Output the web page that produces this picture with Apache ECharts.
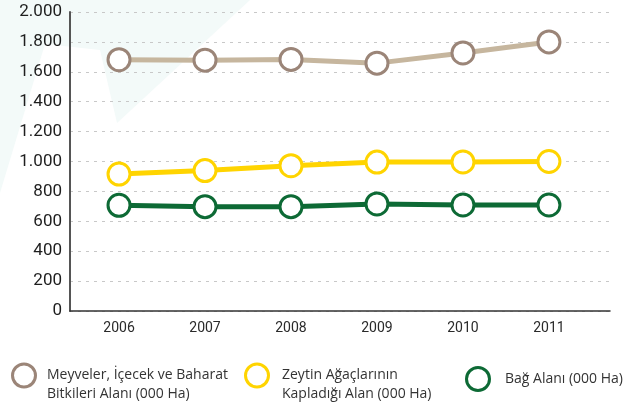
<!DOCTYPE html>
<html>
<head>
<meta charset="utf-8">
<script src="https://cdn.jsdelivr.net/npm/echarts@6/dist/echarts.min.js"></script>
<style>
html,body{margin:0;padding:0;background:#fff;}
#c{width:624px;height:403px;}
</style>
</head>
<body>
<div id="c"></div>
<script>
const years = [2006, 2007, 2008, 2009, 2010, 2011];
const yTicks = [0, 200, 400, 600, 800, 1000, 1200, 1400, 1600, 1800, 2000];
const meyveler = [1681, 1678, 1683, 1658, 1726, 1800];
const zeytin = [916, 939, 972, 996, 997, 1000];
const bag = [707, 698, 698, 716, 709, 709];

const names = [
  'Meyveler, İçecek ve Baharat\nBitkileri Alanı (000 Ha)',
  'Zeytin Ağaçlarının\nKapladığı Alan (000 Ha)',
  'Bağ Alanı (000 Ha)'
];

const fontAxis = "'Roboto','Open Sans',sans-serif";
const fontLegend = "'Open Sans',sans-serif";

function pairs(vals){ return years.map((y,i)=>[y, vals[i]]); }
function fmt(v){
  if (v >= 1000) return Math.floor(v/1000) + '.' + String(v % 1000).padStart(3,'0');
  return String(v);
}

const chart = echarts.init(document.getElementById('c'), null, {renderer:'canvas'});

function mkSeries(name, vals, lineColor, borderColor, z){
  return {
    name: name,
    type: 'line',
    data: pairs(vals),
    symbol: 'circle',
    symbolSize: 22,
    z: z,
    lineStyle: {color: lineColor, width: 5},
    itemStyle: {color: '#fff', borderColor: borderColor, borderWidth: 3},
    emphasis: {disabled: true},
    animation: false
  };
}

function mkLegend(name, left, top, padLeft, twoLine){
  return {
    data: [name],
    left: left, top: top,
    icon: 'circle',
    itemWidth: 30, itemHeight: 23,
    selectedMode: false,
    padding: 0,
    formatter: n => twoLine ? '\n' + n : n,
    textStyle: {color: '#333', fontSize: 14, fontFamily: fontLegend, lineHeight: 19, padding:[0,0,0,padLeft]},
    itemStyle: {color:'#fff', borderWidth: 3}
  };
}

chart.setOption({
  animation: false,
  backgroundColor: '#fff',
  graphic: [{
    type: 'polygon',
    z: -10,
    silent: true,
    shape: {points: [[0,0],[250,0],[117,123],[100,50],[45,44],[0,193]]},
    style: {fill: '#f3faf9'}
  }],
  grid: {left: 70, right: 14, top: 12, bottom: 92, containLabel: false},
  xAxis: {
    type: 'value',
    min: 2005.43,
    max: 2011.71,
    axisLine: {show: true, lineStyle: {color: '#333', width: 1.5}},
    axisTick: {show: false},
    splitLine: {show: false},
    axisLabel: {
      customValues: years,
      color: '#2a2a2a', fontSize: 14, fontFamily: fontAxis, margin: 10,
      formatter: v => String(v)
    }
  },
  yAxis: {
    type: 'value',
    min: 0, max: 2000, interval: 200,
    axisLine: {show: true, lineStyle: {color: '#555', width: 2}},
    axisTick: {show: false},
    splitLine: {show: true, lineStyle: {color: '#c8c8c8', width: 1.2, type: [3, 5]}},
    axisLabel: {
      customValues: yTicks,
      color: '#1e1e1e', fontSize: 17, fontFamily: fontAxis, margin: 8,
      formatter: v => fmt(v)
    }
  },
  legend: [
    mkLegend(names[0], 11, 347, 3, true),
    mkLegend(names[1], 244, 347, 5, true),
    mkLegend(names[2], 465, 366, 7, false)
  ],
  series: [
    mkSeries(names[0], meyveler, '#c6b69e', '#9b8578', 3),
    mkSeries(names[1], zeytin, '#ffd400', '#ffd400', 4),
    mkSeries(names[2], bag, '#0d6a35', '#0d6a35', 5)
  ]
});
</script>
</body>
</html>
